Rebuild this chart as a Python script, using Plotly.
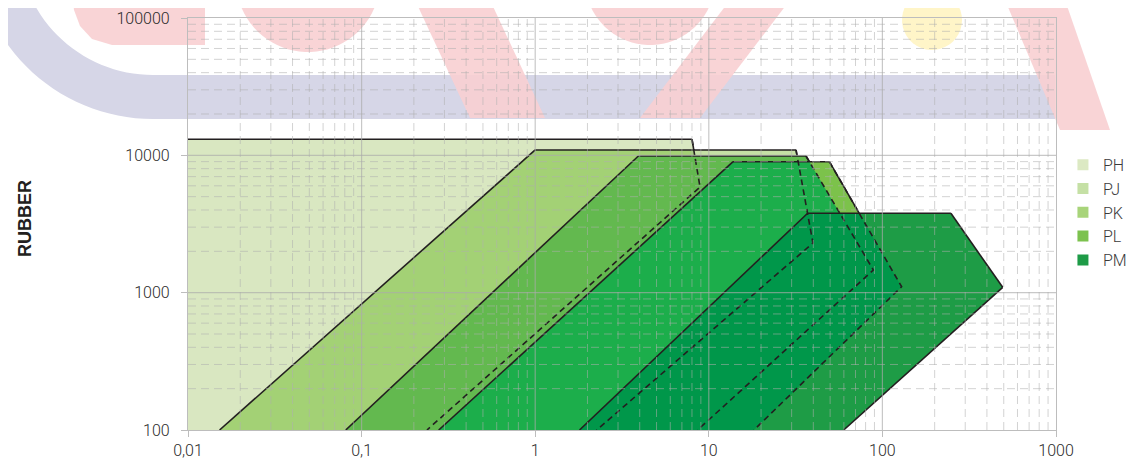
import numpy as np
import plotly.graph_objects as go

# ---------------- data ----------------
series = ["PH", "PJ", "PK", "PL", "PM"]
PH_x = [0.01, 0.01, 8.0, 8.9, 0.238]
PH_y = [100, 13100, 13100, 5880, 100]
PJ_x = [0.0152, 1.0, 31.8, 39.8, 2.26]
PJ_y = [100, 10940, 10940, 2300, 100]
PK_x = [0.081, 3.93, 36.3, 88.7, 8.62]
PK_y = [100, 9890, 9890, 1462, 100]
PL_x = [0.278, 13.8, 49.5, 129, 18.2]
PL_y = [100, 8990, 8990, 1105, 100]
PM_x = [1.80, 37.1, 248, 493, 59.8]
PM_y = [100, 3785, 3785, 1094, 100]
dashed_series = ["PH", "PJ", "PK", "PL"]   # right-hand edges seen through later areas

x_tickvals = [0.01, 0.1, 1, 10, 100, 1000]
x_ticktext = ["0,01", "0,1", "1", "10", "100", "1000"]
y_tickvals = [100, 1000, 10000, 100000]
y_ticktext = ["100", "1000", "10000", "100000"]

# ---------------- styles ----------------
fill_colors = {"PH": "#d9e7c1", "PJ": "#a3d175", "PK": "#63b94f", "PL": "#1cae4b", "PM": "#1e9c46"}
alone_colors = {"PJ": "#c5e0a5", "PL": "#7cc24b"}
PM_IN_PL = "#00974a"
legend_colors = {"PH": "#dce9c3", "PJ": "#c5e0a5", "PK": "#a8d47a", "PL": "#7cc24e", "PM": "#1e9b47"}
OUT = "#231f20"
FONT = "Roboto"

data = {"PH": (PH_x, PH_y), "PJ": (PJ_x, PJ_y), "PK": (PK_x, PK_y),
        "PL": (PL_x, PL_y), "PM": (PM_x, PM_y)}
XMIN = x_tickvals[0]

# ---------- polygon helpers in log space (to colour overlap regions) ----------
def logpoly(s):
    xs, ys = data[s]
    return [(np.log10(a), np.log10(b)) for a, b in zip(xs, ys)]

def centroid(poly):
    return (np.mean([p[0] for p in poly]), np.mean([p[1] for p in poly]))

def side(p, a, b):
    return (b[0] - a[0]) * (p[1] - a[1]) - (b[1] - a[1]) * (p[0] - a[0])

def clip_half(poly, a, b, ref, keep_same):
    """keep points on the same (or opposite) side of line a-b as point ref"""
    sref = np.sign(side(ref, a, b))
    def inside(p):
        v = side(p, a, b) * sref
        return v >= 0 if keep_same else v <= 0
    out = []
    n = len(poly)
    for i in range(n):
        P1, P2 = poly[i], poly[(i + 1) % n]
        in1, in2 = inside(P1), inside(P2)
        if in1:
            out.append(P1)
        if in1 != in2:
            s1, s2 = side(P1, a, b), side(P2, a, b)
            t = s1 / (s1 - s2)
            out.append((P1[0] + t * (P2[0] - P1[0]), P1[1] + t * (P2[1] - P1[1])))
    return out

def edge_clip(poly, s, i, keep_inside):
    other = logpoly(s)
    return clip_half(poly, other[i], other[(i + 1) % len(other)], centroid(other), keep_inside)

def intersect(poly, s):
    other = logpoly(s)
    for i in range(len(other)):
        poly = edge_clip(poly, s, i, True)
        if not poly:
            break
    return poly

def fill_trace(poly, color):
    xs = [10 ** p[0] for p in poly] + [10 ** poly[0][0]]
    ys = [10 ** p[1] for p in poly] + [10 ** poly[0][1]]
    return go.Scatter(x=xs, y=ys, fill="toself", fillcolor=color, mode="lines",
                      line=dict(width=0), showlegend=False, hoverinfo="skip")

# regions where an area shows alone (not covered by neighbours)
patches = {
    "PJ": [(edge_clip(edge_clip(logpoly("PJ"), "PK", 1, False), "PH", 2, False), alone_colors["PJ"])],
    "PL": [(edge_clip(edge_clip(logpoly("PL"), "PK", 2, False), "PM", 1, False), alone_colors["PL"])],
    "PM": [(intersect(logpoly("PM"), "PL"), PM_IN_PL)],
}

fig = go.Figure()
for s in series:
    xs, ys = data[s]
    fig.add_trace(go.Scatter(x=xs + [xs[0]], y=ys + [ys[0]], fill="toself",
                             fillcolor=fill_colors[s], mode="lines",
                             line=dict(width=0), showlegend=False, hoverinfo="skip"))
    for poly, col in patches.get(s, []):
        if len(poly) >= 3:
            fig.add_trace(fill_trace(poly, col))
    # outline: every edge except the closing bottom edge and edges on the left axis
    ox, oy = [], []
    for i in range(len(xs) - 1):
        if xs[i] == XMIN and xs[i + 1] == XMIN:
            continue
        ox += [xs[i], xs[i + 1], None]
        oy += [ys[i], ys[i + 1], None]
    fig.add_trace(go.Scatter(x=ox, y=oy, mode="lines", line=dict(color=OUT, width=1.6),
                             showlegend=False, hoverinfo="skip"))

for s in dashed_series:
    xs, ys = data[s]
    fig.add_trace(go.Scatter(x=xs[2:], y=ys[2:], mode="lines",
                             line=dict(color=OUT, width=1.6, dash="6px,4px"),
                             showlegend=False, hoverinfo="skip"))

for s in series:
    fig.add_trace(go.Scatter(x=[None], y=[None], mode="markers", name=s,
                             marker=dict(symbol="square", size=11, color=legend_colors[s])))

# ---------------- page geometry (window pixels; page body has an 8px margin) ----------------
BODY = 8
WIN_W, WIN_H = 1141, 468
L, R, T, B = 188, 1056, 18, 430          # plot area in window pixels

def P(px, py):
    return (px - L) / (R - L), (B - py) / (B - T)

def path(pts):
    out = []
    for i, (px, py) in enumerate(pts):
        x, y = P(px, py)
        out.append(("M" if i == 0 else "L") + f"{x:.5f},{y:.5f}")
    return " ".join(out) + " Z"

def arc(cx, cy, r, a0, a1, n=40):
    t = np.radians(np.linspace(a0, a1, n))
    return list(zip(cx + r * np.cos(t), cy + r * np.sin(t)))

# ---------------- watermark (background decoration) ----------------
shapes = []
PINK = "#f8cfd2"
GRAYBLUE = "#d6d6e7"
ring = arc(153, -60, 179, 200, 90) + [(1055, 119), (1055, 75)] + arc(153, -60, 135, 90, 200)
shapes.append(dict(type="path", path=path(ring), xref="paper", yref="paper",
                   fillcolor=GRAYBLUE, line=dict(width=0), layer="below"))
pinks = [
    [(73, 0), (205, 0), (205, 45), (112, 45), (92, 39), (80, 26), (74, 10)],
    arc(308, -20, 72, 0, 180),
    [(415, 0), (490, 0), (545, 118), (470, 118)],
    arc(650, -20, 65, 0, 180),
    [(730, 0), (790, 0), (700, 118), (640, 118)],
    [(1005, 0), (1065, 0), (1110, 130), (1060, 130)],
]
for pts in pinks:
    shapes.append(dict(type="path", path=path(pts), xref="paper", yref="paper",
                       fillcolor=PINK, line=dict(width=0), layer="below", opacity=0.9))
shapes.append(dict(type="path", path=path(arc(932, 20, 30, 0, 360)), xref="paper", yref="paper",
                   fillcolor="#fff5c8", line=dict(width=0), layer="below"))

# ---------------- grid above the areas ----------------
MINOR = dict(color="rgba(175,175,175,0.55)", width=1, dash="8px,5px")
MAJOR = dict(color="rgba(170,170,170,0.65)", width=1.2)
for d in x_tickvals[:-1]:
    for k in range(2, 10):
        shapes.append(dict(type="line", xref="x", yref="paper", x0=d * k, x1=d * k, y0=0, y1=1,
                           line=MINOR, layer="above"))
for d in y_tickvals[:-1]:
    for k in range(2, 10):
        shapes.append(dict(type="line", xref="paper", yref="y", x0=0, x1=1, y0=d * k, y1=d * k,
                           line=MINOR, layer="above"))
for v in x_tickvals[1:-1]:
    shapes.append(dict(type="line", xref="x", yref="paper", x0=v, x1=v, y0=0, y1=1,
                       line=MAJOR, layer="above"))
for v in y_tickvals[1:-1]:
    shapes.append(dict(type="line", xref="paper", yref="y", x0=0, x1=1, y0=v, y1=v,
                       line=MAJOR, layer="above"))

FIG_W, FIG_H = WIN_W - 2 * BODY, WIN_H - 2 * BODY
fig.update_layout(
    width=FIG_W, height=FIG_H,
    margin=dict(l=L - BODY, r=FIG_W - (R - BODY), t=T - BODY, b=FIG_H - (B - BODY),
                autoexpand=False),
    paper_bgcolor="white", plot_bgcolor="rgba(0,0,0,0)",
    font=dict(family=FONT, size=16, color="#2b2b2b", weight=300),
    shapes=shapes,
    legend=dict(x=1.008, y=0.685, xanchor="left", yanchor="top",
                font=dict(size=16, color="#3a3a3a", weight=300), bgcolor="rgba(0,0,0,0)",
                itemwidth=30, tracegroupgap=0),
    annotations=[dict(text="<b>RUBBER</b>", xref="paper", yref="paper",
                      x=P(25, 0)[0], y=P(0, 219)[1], textangle=-90, showarrow=False,
                      font=dict(family="Liberation Sans", size=18, color="#231f20"),
                      xanchor="center", yanchor="middle")],
)
fig.update_xaxes(type="log", range=[np.log10(x_tickvals[0]), np.log10(x_tickvals[-1])],
                 tickvals=x_tickvals, ticktext=x_ticktext, showgrid=False, zeroline=False,
                 showline=True, linecolor="#bdbdbd", linewidth=1.2, mirror=True,
                 ticks="outside", ticklen=6, tickcolor="#bdbdbd", layer="above traces")
fig.update_yaxes(type="log", range=[np.log10(y_tickvals[0]), np.log10(y_tickvals[-1])],
                 tickvals=y_tickvals, ticktext=y_ticktext, showgrid=False, zeroline=False,
                 showline=True, linecolor="#bdbdbd", linewidth=1.2, mirror=True,
                 ticks="outside", ticklen=6, tickcolor="#bdbdbd", layer="above traces",
                 ticklabelstandoff=8)

fig.write_html("out.html")
